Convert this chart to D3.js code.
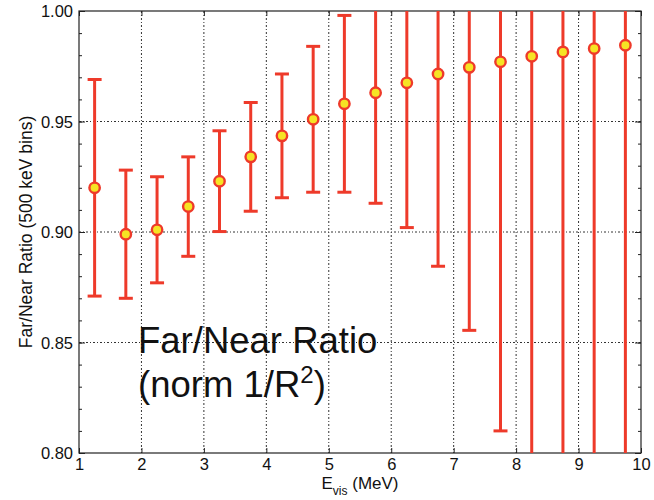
<!DOCTYPE html>
<html>
<head>
<meta charset="utf-8">
<script src="https://cdn.jsdelivr.net/npm/d3@7"></script>
<style>
  body { margin: 0; background: #fff; }
  text { font-family: "Liberation Sans", Arial, sans-serif; fill: #111; }
</style>
</head>
<body>
<div id="chart"></div>
<script>
// bin centres (MeV), far/near ratio and symmetric errors
const energy = [1.25, 1.75, 2.25, 2.75, 3.25, 3.75, 4.25, 4.75, 5.25, 5.75, 6.25, 6.75, 7.25, 7.75, 8.25, 8.75, 9.25, 9.75];
const ratio = [0.920, 0.899, 0.901, 0.9115, 0.923, 0.934, 0.9435, 0.951, 0.958, 0.963, 0.9675, 0.9715, 0.9745, 0.977, 0.9795, 0.9815, 0.983, 0.9845];
const errors = [0.049, 0.029, 0.024, 0.0225, 0.0228, 0.0246, 0.028, 0.033, 0.040, 0.050, 0.0655, 0.087, 0.119, 0.167, 0.22, 0.27, 0.33, 0.40];
const xTicks = [1, 2, 3, 4, 5, 6, 7, 8, 9, 10];
const yTicks = [0.80, 0.85, 0.90, 0.95, 1.00];

const data = energy.map((e, i) => ({ e: e, r: ratio[i], err: errors[i] }));

const W = 654, H = 500;
const margin = { top: 11, left: 79, right: 13, bottom: 47 },
  width = W - margin.left - margin.right,
  height = H - margin.top - margin.bottom;

const red = "#ee3a2a", yellow = "#f6e424";

const svg = d3.select("#chart").append("svg")
  .attr("width", W).attr("height", H);

const g = svg.append("g")
  .attr("transform", "translate(" + margin.left + "," + margin.top + ")");

const x = d3.scaleLinear().domain([1, 10]).range([0, width]);
const y = d3.scaleLinear().domain([0.8, 1.0]).range([height, 0]);

// dotted grid
const grid = g.append("g").attr("class", "grid");
grid.selectAll(".gx")
  .data(xTicks.slice(1, -1))
  .enter().append("line")
  .attr("x1", d => x(d)).attr("x2", d => x(d))
  .attr("y1", 0).attr("y2", height)
  .attr("stroke", "#333").attr("stroke-width", 1)
  .attr("stroke-dasharray", "2,2,1,2");
grid.selectAll(".gy")
  .data(yTicks.slice(1, -1))
  .enter().append("line")
  .attr("y1", d => y(d)).attr("y2", d => y(d))
  .attr("x1", 0).attr("x2", width)
  .attr("stroke", "#333").attr("stroke-width", 1)
  .attr("stroke-dasharray", "2,2,1,2");

// axes, ticks pointing inward
const yMinor = d3.range(0.80, 1.0001, 0.01);
g.append("g")
  .call(d3.axisLeft(y).tickValues(yMinor).tickSize(-3).tickFormat(""))
  .call(a => a.select(".domain").remove());
g.append("g")
  .attr("transform", "translate(" + width + ",0)")
  .call(d3.axisRight(y).tickValues(yMinor).tickSize(-3).tickFormat(""))
  .call(a => a.select(".domain").remove());
g.append("g")
  .call(d3.axisLeft(y).tickValues(yTicks).tickSize(-6).tickPadding(6).tickFormat(d3.format(".2f")))
  .call(a => a.select(".domain").remove())
  .selectAll("text").style("font-size", "16.5px").attr("dy", "0.35em");
g.append("g")
  .attr("transform", "translate(" + width + ",0)")
  .call(d3.axisRight(y).tickValues(yTicks).tickSize(-6).tickFormat(""))
  .call(a => a.select(".domain").remove());
g.append("g")
  .attr("transform", "translate(0," + height + ")")
  .call(d3.axisBottom(x).tickValues(xTicks).tickSize(-5).tickPadding(5).tickFormat(d3.format("d")))
  .call(a => a.select(".domain").remove())
  .selectAll("text").style("font-size", "16.5px");
g.append("g")
  .call(d3.axisTop(x).tickValues(xTicks).tickSize(-5).tickFormat(""))
  .call(a => a.select(".domain").remove());
g.selectAll(".tick line").attr("stroke", "#222");

g.append("rect")
  .attr("width", width).attr("height", height)
  .attr("fill", "none").attr("stroke", "#222").attr("stroke-width", 1.2);

// error bars, clipped to the frame
svg.append("clipPath").attr("id", "plotClip")
  .append("rect").attr("width", width).attr("height", height);

const bars = g.append("g").attr("clip-path", "url(#plotClip)")
  .selectAll(".errbar")
  .data(data)
  .enter().append("g").attr("class", "errbar");

bars.append("line")
  .attr("x1", d => x(d.e)).attr("x2", d => x(d.e))
  .attr("y1", d => y(d.r + d.err)).attr("y2", d => y(d.r - d.err))
  .attr("stroke", red).attr("stroke-width", 3);
bars.append("line")
  .attr("x1", d => x(d.e) - 7).attr("x2", d => x(d.e) + 7)
  .attr("y1", d => y(d.r + d.err)).attr("y2", d => y(d.r + d.err))
  .attr("stroke", red).attr("stroke-width", 3);
bars.append("line")
  .attr("x1", d => x(d.e) - 7).attr("x2", d => x(d.e) + 7)
  .attr("y1", d => y(d.r - d.err)).attr("y2", d => y(d.r - d.err))
  .attr("stroke", red).attr("stroke-width", 3);

g.append("g").selectAll(".point")
  .data(data)
  .enter().append("circle")
  .attr("class", "point")
  .attr("cx", d => x(d.e)).attr("cy", d => y(d.r))
  .attr("r", 5.2)
  .attr("fill", yellow).attr("stroke", red).attr("stroke-width", 2.4);

// axis labels
svg.append("text")
  .attr("transform", "translate(32," + (margin.top + height / 2) + ") rotate(-90)")
  .attr("text-anchor", "middle")
  .style("font-size", "17.5px")
  .text("Far/Near Ratio (500 keV bins)");

const xl = svg.append("text")
  .attr("x", margin.left + width / 2)
  .attr("y", 489)
  .attr("text-anchor", "middle")
  .style("font-size", "17px");
xl.append("tspan").text("E");
xl.append("tspan").attr("dy", 6).style("font-size", "12px").text("vis");
xl.append("tspan").attr("dy", -6).text(" (MeV)");

// annotation
svg.append("text")
  .attr("x", 138).attr("y", 353)
  .style("font-size", "36.5px")
  .text("Far/Near Ratio");
const note = svg.append("text")
  .attr("x", 138).attr("y", 397)
  .style("font-size", "36.5px");
note.append("tspan").text("(norm 1/R");
note.append("tspan").attr("dy", -14).style("font-size", "24px").text("2");
note.append("tspan").attr("dy", 14).text(")");
</script>
</body>
</html>
